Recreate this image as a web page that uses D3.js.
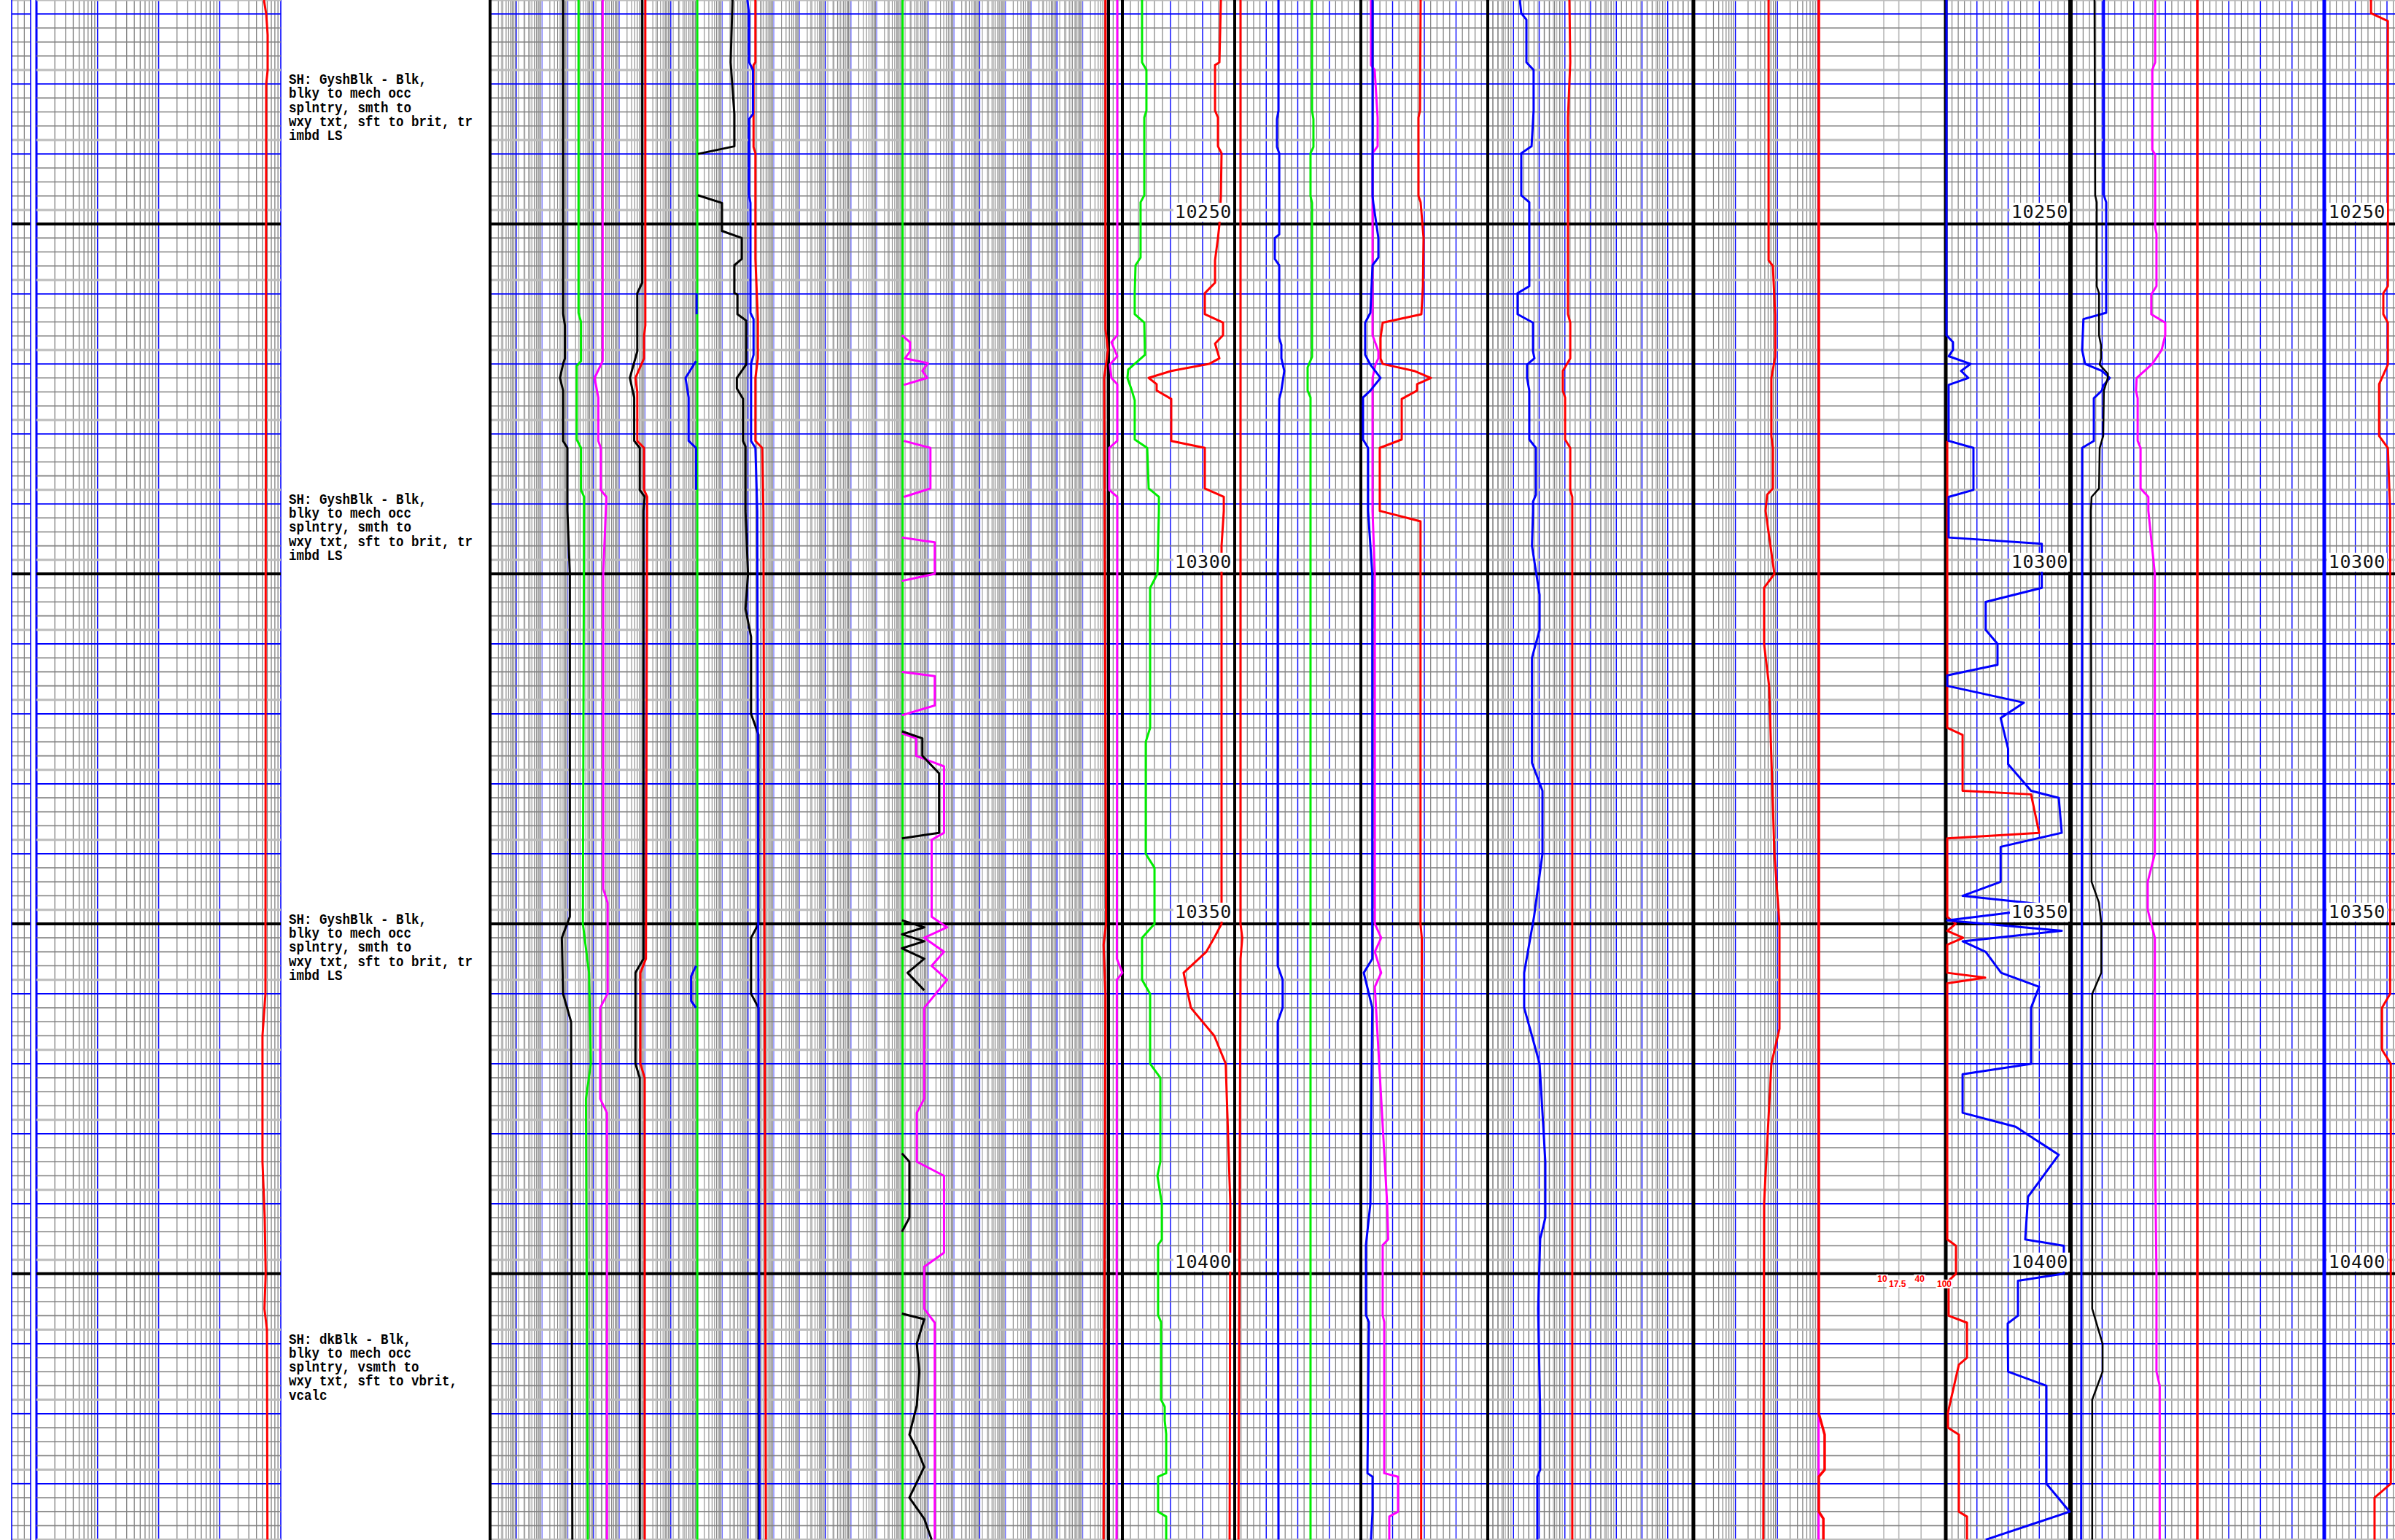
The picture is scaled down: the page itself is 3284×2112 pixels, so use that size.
<!DOCTYPE html>
<html><head><meta charset="utf-8">
<script src="https://cdn.jsdelivr.net/npm/d3@7"></script>
<style>body{margin:0;background:#fff}svg{display:block}</style>
</head><body><svg id="c" width="3284" height="2112"></svg>
<script>
// ---------------- DATA ----------------
const depthDomain=[10218,10438];
const depthLabels=[10250,10300,10350,10400];
const lithoDepths=[10230,10290,10350,10410];
const lithoBlock1=["SH: GyshBlk - Blk,","blky to mech occ","splntry, smth to","wxy txt, sft to brit, tr","imbd LS"];
const lithoBlock2=["SH: GyshBlk - Blk,","blky to mech occ","splntry, smth to","wxy txt, sft to brit, tr","imbd LS"];
const lithoBlock3=["SH: GyshBlk - Blk,","blky to mech occ","splntry, smth to","wxy txt, sft to brit, tr","imbd LS"];
const lithoBlock4=["SH: dkBlk - Blk,","blky to mech occ","splntry, vsmth to","wxy txt, sft to vbrit,","vcalc"];
const scaleTickValues=[10,17.5,40,100];
const scaleTickLabels=["10","17.5","40","100"];

// curves: [depth, value (% of track scale)]
const t2Res=[[10218,93.2],[10220,94.1],[10223,94.7],[10228,94.7],[10230,94.1],[10300,93.9],[10360,93.8],[10366,92.6],[10384,92.6],[10392,93.5],[10400,93.9],[10405,93.4],[10408,94.4],[10438,94.6]];
const t3BlkA=[[10218,11.8],[10262.8,11.8],[10264.5,12.1],[10269.2,12.1],[10270,11.8],[10272,11.3],[10273.8,11.8],[10281,11.8],[10282,12.5],[10291,12.5],[10300,12.9],[10349,12.9],[10352,11.6],[10360,11.8],[10364,13.1],[10438,13.3]];
const t3GrnB=[[10218,14.3],[10262.7,14.3],[10264,14.7],[10269.6,14.7],[10270.3,14.0],[10280.8,14.0],[10282,14.7],[10288,14.7],[10289,15.2],[10350,15.0],[10357,16.0],[10370,16.3],[10375,15.5],[10438,15.8]];
const t3MagC=[[10218,18.2],[10269.6,18.2],[10272,16.9],[10274.8,17.5],[10281,17.5],[10282,17.9],[10288,17.9],[10289,18.8],[10300,18.3],[10345,18.3],[10347,19.0],[10360,19.0],[10362,17.8],[10375,17.8],[10377,18.9],[10438,18.9]];
const t3BlkD=[[10218,24.6],[10258.4,24.6],[10259.9,23.8],[10268.2,23.8],[10272,22.6],[10274.8,23.3],[10281,23.3],[10282,24.2],[10288,24.2],[10289,25.0],[10291,24.8],[10355,24.8],[10357,23.5],[10370,23.5],[10372,24.2],[10438,24.2]];
const t3RedE=[[10218,25.1],[10264.5,25.1],[10266,24.9],[10269.2,24.9],[10272,23.5],[10274,23.8],[10281,23.8],[10282,24.9],[10288,24.9],[10289,25.4],[10355,25.2],[10357,24.3],[10370,24.3],[10372,25.0],[10438,25.0]];
const t3GrnF=[[10218,33.5],[10438,33.5]];
const t3BluG=[[10259.9,33.4],[10262.9,33.4],[10263,null],[10269.6,33.3],[10272,31.6],[10274.8,32.1],[10281,32.1],[10282,33.3],[10288,33.3],[10289,null],[10356,33.3],[10357.5,32.5],[10361,32.5],[10362,33.3]];
const t3BlkH=[[10218,39.2],[10226.9,38.9],[10234.3,39.5],[10238.9,39.5],[10240,33.6],[10240.1,null],[10245.9,33.6],[10247,37.5],[10251,37.5],[10252,40.7],[10255,40.7],[10255.9,39.5],[10259.9,39.5],[10260.1,40.0],[10262.9,40.0],[10263.8,41.4],[10270.1,41.4],[10272,39.9],[10273.5,39.9],[10275,40.9],[10281,40.9],[10281.8,41.3],[10291,41.3],[10300,41.7],[10305,41.3],[10309,42.2],[10320,42.2],[10323,43.4],[10350,43.4],[10352,42.2],[10360,42.2],[10362,43.4],[10438,43.4]];
const t3BluI=[[10218,41.6],[10220.1,41.9],[10226.9,41.9],[10228,42.5],[10234.3,42.5],[10235,41.9],[10246,41.9],[10247,42.1],[10262.7,42.1],[10263.6,42.6],[10268.7,42.6],[10270,42.2],[10281,42.2],[10282,42.9],[10291,43.2],[10438,43.6]];
const t3RedJ=[[10218,42.9],[10226.9,42.9],[10227.3,42.6],[10239,42.6],[10239.9,42.9],[10255,42.9],[10263.6,43.3],[10269.2,43.3],[10272,42.9],[10281,42.9],[10282,44.0],[10291,44.2],[10438,44.6]];
const t3GrnK=[[10218,66.7],[10438,66.7]];
const t3MagL=[[10265.9,66.6],[10266.9,67.9],[10268.2,67.9],[10269.2,67.1],[10269.9,70.8],[10271,69.9],[10272,70.7],[10273,66.9],[10273.1,null],
 [10281,66.9],[10282,71.2],[10287.8,71.2],[10289,66.9],[10289.1,null],
 [10294.8,66.6],[10295.5,71.9],[10300,71.9],[10301,66.6],[10301.1,null],
 [10314,66.6],[10314.6,71.9],[10318.8,71.9],[10320.2,66.6],[10320.3,null],
 [10322.8,66.6],[10323.5,68.9],[10326,68.9],[10327.5,73.4],[10337,73.4],[10338,71.4],[10349,71.4],[10350.5,73.9],[10352,70.2],[10354,73.4],[10356,71.4],[10358,73.9],[10362,70.2],[10375,70.2],[10377,69.0],[10384,69.0],[10386,73.4],[10397,73.4],[10399,70.2],[10405,70.2],[10407,71.9],[10438,71.9]];
const t3BlkM=[[10322.5,66.6],[10323.5,69.9],[10326,69.9],[10328.5,72.6],[10337,72.6],[10337.8,66.6],[10338,null],
 [10349.5,66.6],[10350.5,70.2],[10351.5,66.6],[10352.5,70.2],[10353.5,66.6],[10355,70.2],[10357,67.5],[10359.5,70.2],[10360,null],
 [10382.8,66.6],[10384,67.8],[10392,67.8],[10394,66.6],[10394.1,null],
 [10405.7,66.6],[10406.5,70.2],[10410,69.0],[10414,69.4],[10418.8,69.0],[10423,67.8],[10425,69.0],[10427.6,70.2],[10432,67.8],[10435,70.2],[10438,71.4]];
const t3RedN=[[10218,99.5],[10265,99.5],[10268,99.9],[10272,99.3],[10300,99.4],[10350,99.6],[10353,99.2],[10360,99.5],[10438,99.2]];
const t3bMagP=[[10218,63],[10265.9,63],[10266.9,21],[10268.9,63],[10270.1,10],[10272,21],[10272.9,63],[10281,63],[10282,5],[10288,5],[10289,63],[10355,60],[10357,100],[10358,60],[10438,58]];
const t4GrnQ=[[10218,17.5],[10226.9,17.5],[10228,21.4],[10233.8,21.4],[10234.8,19.5],[10245.9,19.5],[10246.9,16.2],[10254.8,16.2],[10255.9,11.7],[10259.9,11.0],[10262.9,11.0],[10264.1,19.5],[10268.7,20.1],[10270.8,5.2],[10272,4.5],[10273.8,8.4],[10275.2,11.0],[10280.8,11.0],[10282,22.1],[10287.8,23.4],[10289,32.5],[10291,32.5],[10300,31.2],[10302,24.7],[10322,24.7],[10324,20.8],[10340,20.8],[10342,28.6],[10350,28.6],[10352,17.5],[10358,17.5],[10360,24.7],[10370,24.7],[10372,33.8],[10384,33.8],[10386,31.2],[10390,35.1],[10395.1,35.1],[10395.9,31.8],[10405.9,31.8],[10406.9,34.4],[10418,34.4],[10419,37.7],[10421,37.7],[10422.9,39.0],[10428.5,39.0],[10429,31.8],[10434,31.8],[10434.7,39.0],[10438,39.0]];
const t4RedR=[[10218,87.7],[10226.9,86.4],[10227.3,82.5],[10233.8,82.5],[10234.8,85.1],[10238.9,85.1],[10239.9,88.3],[10246,87.7],[10250.1,86.4],[10252,85.1],[10255.2,82.5],[10258.4,82.5],[10259.9,73.4],[10262.9,73.4],[10264.1,89.6],[10265.9,89.6],[10267.1,82.5],[10269.2,86.4],[10270,77.3],[10271,43.5],[10272,23.4],[10272.9,30.5],[10273.8,30.5],[10275,43.5],[10281,43.5],[10282,73.4],[10287.8,73.4],[10289,90.3],[10291,90.3],[10296,88.3],[10350,88.3],[10352,81.8],[10354,74.7],[10357,54.5],[10362,61],[10366,81.8],[10370,92],[10390,96.1],[10438,95.5]];
const t5RedS=[[10218,4.6],[10350,4.6],[10352,6],[10355,4.6],[10438,3.0]];
const t5BluT=[[10218,34.7],[10233.8,34.7],[10235,33.5],[10239,33.5],[10239.9,35.3],[10251.5,35.3],[10252,31.8],[10255,31.8],[10255.9,35.3],[10266.3,35.3],[10267.3,37.0],[10269.2,37.0],[10271,39.3],[10273.8,37.0],[10275,35.3],[10300,34.1],[10356,34.1],[10358,38],[10362,38],[10364,34.1],[10438,34.7]];
const t5GrnU=[[10218,61.3],[10233.8,61.3],[10235,62.4],[10239,62.4],[10239.9,60.1],[10246,60.1],[10247,61.3],[10269,61.3],[10270.5,57.8],[10273.8,57.8],[10274.8,60.1],[10438,60.1]];
const t6BluV=[[10218,9.2],[10246,9.2],[10247,9.8],[10252,13.8],[10254.8,13.8],[10255.9,9.2],[10262.7,7.5],[10264.1,3.4],[10268.7,3.4],[10270.1,7.5],[10272,15.5],[10273.8,7.5],[10274.8,1.7],[10280.8,1.7],[10282,5.7],[10291,5.7],[10300,9],[10355,9],[10357,2.3],[10362,9],[10390,7.5],[10395.9,4.0],[10405.9,4.0],[10406.9,6.3],[10428.5,5.2],[10429,9.2],[10434,9.2],[10438,8]];
const t6MagW=[[10218,8.0],[10227.3,8.0],[10228,10.9],[10234.8,13.2],[10238.9,13.2],[10239.9,9.2],[10265.9,9.2],[10268.2,13.8],[10269.2,13.8],[10270.1,11.5],[10272,9.2],[10291,9.2],[10300,11],[10350,11],[10352,16],[10354,11],[10357,16],[10359,11],[10390,20.7],[10395.1,21.5],[10395.9,17.2],[10405.9,17.2],[10406.9,18.4],[10428.5,18.4],[10429,29.3],[10434,29.3],[10434.7,22.4],[10438,22.4]];
const t6RedX=[[10218,47.1],[10233.8,46.6],[10234.8,45.4],[10246,45.4],[10246.9,47.1],[10252,49.4],[10258.9,48.9],[10262.9,47.7],[10264.1,17.2],[10266.3,15.5],[10269.2,15.5],[10270,17.2],[10271,42.0],[10272,55.2],[10272.9,44.3],[10273.8,44.3],[10275,32.2],[10280.8,32.2],[10282,14.9],[10291,14.9],[10292.5,47],[10350,47],[10352,48],[10438,47.5]];
const t7BluY=[[10218,15.6],[10219.9,16.3],[10220.8,18.8],[10226.9,18.8],[10228,22.3],[10233.8,22.3],[10238.9,21.3],[10239.9,16.3],[10245.9,16.3],[10246.9,20.2],[10258.9,20.2],[10259.9,14.5],[10262.9,14.5],[10264.1,22.0],[10268.2,22.0],[10269.2,22.7],[10270.1,19.1],[10272,19.1],[10273.8,20.2],[10280.8,20.2],[10282,23.4],[10288.7,23.4],[10289.7,22.0],[10291,22.0],[10296,21.5],[10303,25.2],[10308,25.2],[10312,21.5],[10327,21.5],[10331,26.6],[10340,26.6],[10349,22.5],[10357,17.7],[10362,17.7],[10366,21.5],[10370,25.2],[10384,28.0],[10392,28.0],[10395,25.5],[10405,24.5],[10420,25.5],[10428,25.5],[10429,24.1],[10438,24.1]];
const t7RedZ=[[10218,39.7],[10226.9,40.1],[10234.8,39.0],[10262.9,39.0],[10264.1,40.1],[10269.2,40.1],[10271,36.5],[10273.8,36.5],[10274.8,37.6],[10280.8,37.6],[10282,40.1],[10288,40.1],[10289,41.1],[10438,41.1]];
const t8RedAA=[[10218,29.8],[10255.2,29.8],[10256,31.5],[10263,32.4],[10269,32.4],[10272,30.9],[10280.3,30.9],[10282,31.5],[10287.8,31.5],[10288.7,29.2],[10291,28.6],[10300,32.1],[10302,28.0],[10310,28.0],[10316,30],[10340,32.1],[10350,34.1],[10365,34.1],[10370,30.9],[10390,28],[10438,27.7]];
const t8MagConst=[[10218,49.6],[10438,49.6]];
const t8RedAB=[[10218,49.7],[10420,49.7],[10423,52],[10428,52],[10429,49.7],[10434,49.7],[10435,51.5],[10438,51.5]];
const t9BluAC=[[10218,0.6],[10265.9,0.6],[10266.9,5.8],[10268,5.8],[10268.9,2.3],[10270,19.9],[10271,12.3],[10272,18.1],[10273,2.3],[10281,2.3],[10282,22.2],[10288,22.2],[10289,2.3],[10294.8,2.3],[10295.7,77],[10302,77],[10304,32],[10308,32],[10310,41.5],[10313,41.5],[10314.5,1.2],[10316,1.2],[10318.4,62.6],[10320.6,44],[10325,50],[10327.2,50],[10331,68.4],[10332,90.6],[10337,93],[10339,44],[10344,44],[10346,13.5],[10347.5,93],[10349.5,1.2],[10351,93],[10352.5,13.5],[10354,32],[10357,44.4],[10359,74.9],[10362,68.4],[10370,68.4],[10371.5,13.5],[10377,13.5],[10379,56],[10383,90.6],[10389,66],[10395.1,63.7],[10396,94.7],[10400,94.7],[10401,57.9],[10406,57.9],[10407.1,49.7],[10414,50],[10416,80.7],[10430,80.7],[10434,99.4],[10438,32]];
const t9RedAD=[[10281,1.2],[10322,1.2],[10323,13.5],[10331,13.5],[10331.5,68.4],[10337,74.9],[10337.8,1.2],[10349,1.2],[10350,8],[10351,1.2],[10352,14],[10353,1.2],[10357,1.2],[10357.7,31.6],[10358.5,1.2],[10395.1,1.2],[10396,8.2],[10400,8.2],[10401,2.3],[10406,2.3],[10407,17.0],[10412,17.0],[10413,10.5],[10419.8,1.8],[10422,1.8],[10423,10.5],[10434,10.5],[10434.7,17.0],[10438,17.0]];
const t10BlkAE=[[10218,7.4],[10245.9,7.6],[10246.9,8.1],[10258.9,8.1],[10259.9,8.8],[10265.9,8.8],[10267.3,9.4],[10269.2,9.4],[10270.1,9.0],[10271.4,11.5],[10272,11.5],[10273.8,10.3],[10280.3,10.1],[10282,9.0],[10287.8,8.8],[10289,6.5],[10291,6.3],[10344,6.5],[10347,8.8],[10350,9.5],[10357,9.5],[10360,6.7],[10405,6.7],[10410,9.9],[10414,9.9],[10418,6.7],[10438,6.7]];
const t10BluAF=[[10218,10.3],[10245.9,10.3],[10246.9,11.0],[10262.7,11.0],[10263.6,4.0],[10268,3.6],[10270,4.5],[10271,9.7],[10272,12.1],[10273.1,10.1],[10273.8,9.7],[10274.9,7.2],[10281,7.2],[10282,3.6],[10291,3.6],[10438,3.3]];
const t10MagAG=[[10218,26.1],[10226.9,26.1],[10228,25.2],[10239.4,25.2],[10240.1,26.1],[10250.5,26.1],[10251.4,26.5],[10258.9,26.5],[10260.1,24.9],[10262.9,24.9],[10264.1,29.2],[10265.9,29.2],[10268,28.1],[10270,25.2],[10272,20.4],[10273.8,20.2],[10274.9,20.7],[10281,20.7],[10282,21.6],[10287.8,21.6],[10289,24.0],[10291,24.0],[10300,26],[10340,26],[10344,23.8],[10348,23.8],[10352,26],[10380,26],[10400,26.5],[10414,26.5],[10416,27.5],[10438,27.5]];
const t10RedConst=[[10218,39.1],[10438,39.1]];
const t10BluConst=[[10218,78.2],[10438,78.2]];
const t10RedAJ=[[10218,92.6],[10219.9,92.6],[10221,97.8],[10258.9,97.8],[10259.9,96.4],[10262.9,96.4],[10264.1,97.8],[10270.1,97.8],[10272.9,95.1],[10280.3,95.1],[10282,97.8],[10291,98.5],[10360,98.5],[10362,96],[10368,96],[10370,98.7],[10430,98.7],[10432,93.7],[10438,93.7]];

// ---------------- LAYOUT ----------------
const W=3284,H=2112;
const svg=d3.select('#c');
const y=d3.scaleLinear().domain(depthDomain).range([0,220*9.598]);
const TR={T1:[16,42],T2:[46,385],T3:[672,1520],T3b:[1520,1539],T4:[1539,1693],T5:[1693,1866],T6:[1866,2040],T7:[2040,2322],T8:[2322,2668],T9:[2668,2839],T10:[2839,3284]};
const sc={};
for(const k in TR){sc[k]=d3.scaleLinear().domain([0,100]).range(TR[k]);}

const COL={grey:'#808080',light:'#b8b8b8',blue:'#0000ff',lav:'#7070ff',black:'#000'};
const gGrid=svg.append('g');
function vline(x,color,w,g){(g||gGrid).append('line').attr('x1',x).attr('x2',x).attr('y1',0).attr('y2',H).attr('stroke',color).attr('stroke-width',w);}
function linGrid(x0,x1,nMajor,nMinor,opts){
  const s=d3.scaleLinear().domain([0,nMajor]).range([x0,x1]);
  const clipR=opts&&opts.clip?opts.clip:x1;
  d3.range(0,nMajor*nMinor+1).forEach(i=>{const x=s(i/nMinor); if(x>clipR+0.5) return; if(i%nMinor!==0) vline(x,COL.grey,1.2);});
  if(!(opts&&opts.noMajor)) d3.range(0,nMajor+1).forEach(i=>{const x=s(i); if(x>clipR+0.5) return; vline(x,(opts&&opts.majorColor)||COL.blue,1.4);});
}
function logOverlay(origin,decade,nDec,c0,c1,color,w){
  const s=d3.scaleLog().domain([1,Math.pow(10,nDec)]).range([origin,origin+decade*nDec]);
  for(let k=0;k<nDec;k++){for(let m=2;m<=9;m++){const x=s(m*Math.pow(10,k)); if(x>=c0&&x<=c1) vline(x,color,w);}}
}
// T1
d3.range(1,3).forEach(i=>vline(16+i*26/3,COL.grey,1.2));
// T2 log 4 decades
(function(){const s=d3.scaleLog().domain([1,1e4]).range([50,385]);
 for(let k=0;k<4;k++){for(let m=2;m<=9;m++) vline(s(m*Math.pow(10,k)),COL.grey,1.3);}
 for(let k=0;k<=4;k++) vline(s(Math.pow(10,k)),COL.blue,k===0?3:1.6);})();
// T3 : 24 log cycles + coarser light overlay
logOverlay(637,106,9,672,1520,COL.light,1.5);
logOverlay(672.7,35.3,24,672,1520,'#8a8a8a',1.1);
d3.range(1,24).forEach(i=>vline(672.7+35.3*i,(i%3===1)?COL.blue:COL.lav,1.3));
// T3b
d3.range(1,3).forEach(i=>vline(1520+i*19/3,COL.grey,1.2));
// T4
(function(){const s=d3.scaleLinear().domain([0,14]).range([1539,1693]);
 d3.range(1,14).forEach(i=>vline(s(i),(i===6||i===10)?COL.blue:COL.grey,(i===6||i===10)?1.4:1.2));})();
// T5, T6
linGrid(1693,1866,4,5,{});
linGrid(1866,2040,4,5,{});
// T7
logOverlay(2004.5,70.5,5,2040,2322,COL.light,1.5);
linGrid(2040,2322,8,5,{});
// T8
logOverlay(2264.4,57.6,4,2322,2494.8,COL.grey,1.2);
[2379.6,2437.2].forEach(x=>vline(x,COL.blue,1.4));
const t8Log=d3.scaleLog().domain([1,100]).range([2498,2668]);
scaleTickValues.slice(0,3).forEach(v=>vline(t8Log(v),COL.light,1.6));
// T9, T10
linGrid(2668,2839,4,5,{});
linGrid(2839,2839+43.4*11,11,5,{clip:3284});

// horizontal grid
const hSegs=[[16,42],[50,385],[672,3284]];
const gH=svg.append('g');
const depths=d3.range(depthDomain[0],depthDomain[1]+0.01,2);
function hlines(filter,color,w){
  depths.filter(filter).forEach(d=>{hSegs.forEach(s=>{gH.append('line').attr('x1',s[0]).attr('x2',s[1]).attr('y1',y(d)).attr('y2',y(d)).attr('stroke',color).attr('stroke-width',w);});});
}
hlines(d=>d%10===8,'#bcbcbc',3);
hlines(d=>d%10!==8&&d%10!==0,COL.grey,1.6);
hlines(d=>d%10===0&&d%50!==0,COL.blue,1.8);
hlines(d=>d%50===0,COL.black,4);
// T1 borders
const gB=svg.append('g');
vline(16,COL.blue,1.6,gB); vline(42,COL.blue,1.6,gB);
// black track borders
[[672,4],[1520,4],[1539,4],[1693,4],[1866,4],[2040,4],[2322,5],[2668,5],[2839,6]].forEach(b=>vline(b[0],COL.black,b[1],gB));

// ---------------- CURVES ----------------
const gC=svg.append('g');
function curve(track,data,color,w){
  const s=sc[track];
  const line=d3.line().defined(p=>p[1]!=null).x(p=>s(p[1])).y(p=>y(p[0]));
  gC.append('path').attr('d',line(data)).attr('fill','none').attr('stroke',color).attr('stroke-width',w).attr('stroke-linejoin','round');
}
const RED='#ff0000',GRN='#00ee00',MAG='#ff00ff',BLU='#0000ff',BLK='#000000';
curve('T2',t2Res,RED,3);
curve('T3',t3GrnF,GRN,3); curve('T3',t3GrnK,GRN,3);
curve('T3',t3BlkA,BLK,3); curve('T3',t3GrnB,GRN,3); curve('T3',t3MagC,MAG,3);
curve('T3',t3RedE,RED,3); curve('T3',t3BlkD,BLK,3);
curve('T3',t3BluG,BLU,3); curve('T3',t3BlkH,BLK,3);
curve('T3',t3RedJ,RED,3); curve('T3',t3BluI,BLU,3);
curve('T3',t3MagL,MAG,3); curve('T3',t3BlkM,BLK,3);
curve('T3',t3RedN,RED,3); curve('T3b',t3bMagP,MAG,3);
curve('T4',t4GrnQ,GRN,3); curve('T4',t4RedR,RED,3);
curve('T5',t5RedS,RED,3); curve('T5',t5BluT,BLU,3); curve('T5',t5GrnU,GRN,3);
curve('T6',t6RedX,RED,3); curve('T6',t6MagW,MAG,3); curve('T6',t6BluV,BLU,3);
curve('T7',t7RedZ,RED,3); curve('T7',t7BluY,BLU,3);
curve('T8',t8RedAA,RED,3); curve('T8',t8MagConst,MAG,3); curve('T8',t8RedAB,RED,3.5);
curve('T9',t9RedAD,RED,3); curve('T9',t9BluAC,BLU,3);
curve('T10',t10RedConst,RED,3.5); curve('T10',t10BluConst,BLU,5);
curve('T10',t10MagAG,MAG,3); curve('T10',t10BluAF,BLU,3); curve('T10',t10BlkAE,BLK,2.5);
curve('T10',t10RedAJ,RED,3);

// ---------------- TEXT ----------------
const gT=svg.append('g');
const labelRights=[1689,2836,3271];
depthLabels.forEach(d=>{
  labelRights.forEach(xr=>{
    gT.append('rect').attr('x',xr-80).attr('y',y(d)-29).attr('width',82).attr('height',26).attr('fill','#fff');
    gT.append('text').attr('x',xr).attr('y',y(d)-8).attr('text-anchor','end')
      .attr('font-family','DejaVu Sans Mono').attr('font-size',25).attr('letter-spacing',0.6).attr('fill','#111').text(d);
  });
});
const lithoBlocks=[lithoBlock1,lithoBlock2,lithoBlock3,lithoBlock4];
lithoBlocks.forEach((lines,i)=>{
  lines.forEach((t,j)=>{
    gT.append('text').attr('x',396).attr('y',y(lithoDepths[i]+2*j)).attr('font-family','Liberation Mono').attr('font-weight','bold')
      .attr('font-size',19.5).attr('textLength',t.length*10.5).attr('lengthAdjust','spacingAndGlyphs')
      .attr('fill','#000').attr('xml:space','preserve').text(t);
  });
});
// red scale labels under 10400 line
scaleTickLabels.forEach((t,i)=>{
  const x=t8Log(scaleTickValues[i])-2, yy=y(10400)+(i%2===0?11:18);
  const wdt=t.length*7+2;
  gT.append('rect').attr('x',x-wdt/2).attr('y',yy-10).attr('width',wdt).attr('height',12).attr('fill','#fff');
  gT.append('text').attr('x',x).attr('y',yy).attr('text-anchor','middle').attr('font-family','Liberation Sans').attr('font-weight','bold')
    .attr('font-size',12).attr('fill','#ff0000').text(t);
});
</script></body></html>
